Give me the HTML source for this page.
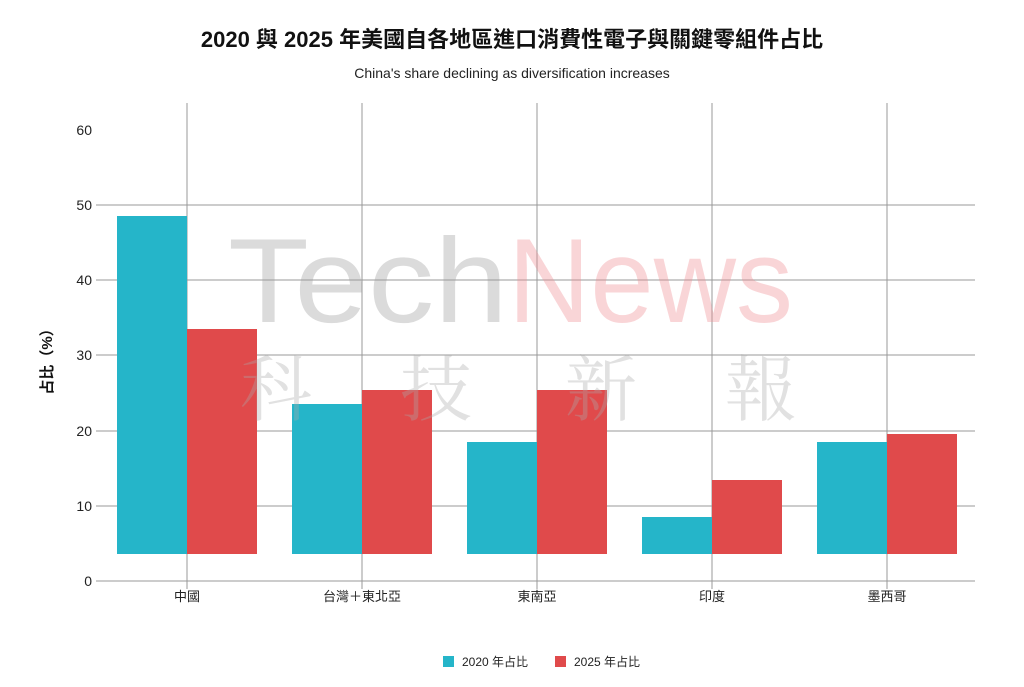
<!DOCTYPE html>
<html><head><meta charset="utf-8"><style>
body{margin:0;background:#fff;}
svg{display:block;font-family:"Liberation Sans","Noto Sans CJK TC",sans-serif;}
</style></head><body>
<svg width="1024" height="687" viewBox="0 0 1024 687">
<rect width="1024" height="687" fill="#fff"/>
<text x="512" y="47" text-anchor="middle" font-size="22" font-weight="bold" fill="#111">2020 與 2025 年美國自各地區進口消費性電子與關鍵零組件占比</text>
<text x="512" y="78" text-anchor="middle" font-size="14" fill="#222">China's share declining as diversification increases</text>
<g stroke="#999" stroke-width="1">
<line x1="96" y1="205" x2="975" y2="205"/>
<line x1="96" y1="280" x2="975" y2="280"/>
<line x1="96" y1="355" x2="975" y2="355"/>
<line x1="96" y1="431" x2="975" y2="431"/>
<line x1="96" y1="506" x2="975" y2="506"/>
<line x1="96" y1="581" x2="975" y2="581"/>
<line x1="187" y1="103" x2="187" y2="589"/>
<line x1="362" y1="103" x2="362" y2="589"/>
<line x1="537" y1="103" x2="537" y2="589"/>
<line x1="712" y1="103" x2="712" y2="589"/>
<line x1="887" y1="103" x2="887" y2="589"/>
</g>
<g font-size="14" fill="#222" text-anchor="end">
<text x="92" y="135">60</text><text x="92" y="210">50</text><text x="92" y="285">40</text>
<text x="92" y="360">30</text><text x="92" y="436">20</text><text x="92" y="511">10</text><text x="92" y="586">0</text>
</g>
<text transform="translate(52,358) rotate(-90)" text-anchor="middle" font-size="15" font-weight="bold" fill="#111">占比（%）</text>
<g fill="#25b5c9">
<rect x="117" y="216" width="70" height="338"/>
<rect x="292" y="404" width="70" height="150"/>
<rect x="467" y="442" width="70" height="112"/>
<rect x="642" y="517" width="70" height="37"/>
<rect x="817" y="442" width="70" height="112"/>
</g>
<g fill="#e04a4b">
<rect x="187" y="329" width="70" height="225"/>
<rect x="362" y="390" width="70" height="164"/>
<rect x="537" y="390" width="70" height="164"/>
<rect x="712" y="480" width="70" height="74"/>
<rect x="887" y="434" width="70" height="120"/>
</g>
<g opacity="0.35">
<text x="228" y="322" font-size="120" fill="#999" textLength="280" lengthAdjust="spacingAndGlyphs">Tech</text>
<text x="508" y="322" font-size="120" fill="#f08890" textLength="285" lengthAdjust="spacingAndGlyphs">News</text>
<g font-family="Liberation Serif, Noto Serif CJK SC, serif" font-size="72" fill="#aaa">
<text x="240" y="415">科</text>
<text x="400" y="415">技</text>
<text x="565" y="415">新</text>
<text x="725" y="415">報</text>
</g>
</g>
<g font-size="13" fill="#222" text-anchor="middle">
<text x="187" y="601">中國</text><text x="362" y="601">台灣＋東北亞</text>
<text x="537" y="601">東南亞</text><text x="712" y="601">印度</text><text x="887" y="601">墨西哥</text>
</g>
<rect x="443" y="656" width="11" height="11" fill="#25b5c9"/>
<text x="462" y="666" font-size="12" fill="#222">2020 年占比</text>
<rect x="555" y="656" width="11" height="11" fill="#e04a4b"/>
<text x="574" y="666" font-size="12" fill="#222">2025 年占比</text>
</svg>
</body></html>
